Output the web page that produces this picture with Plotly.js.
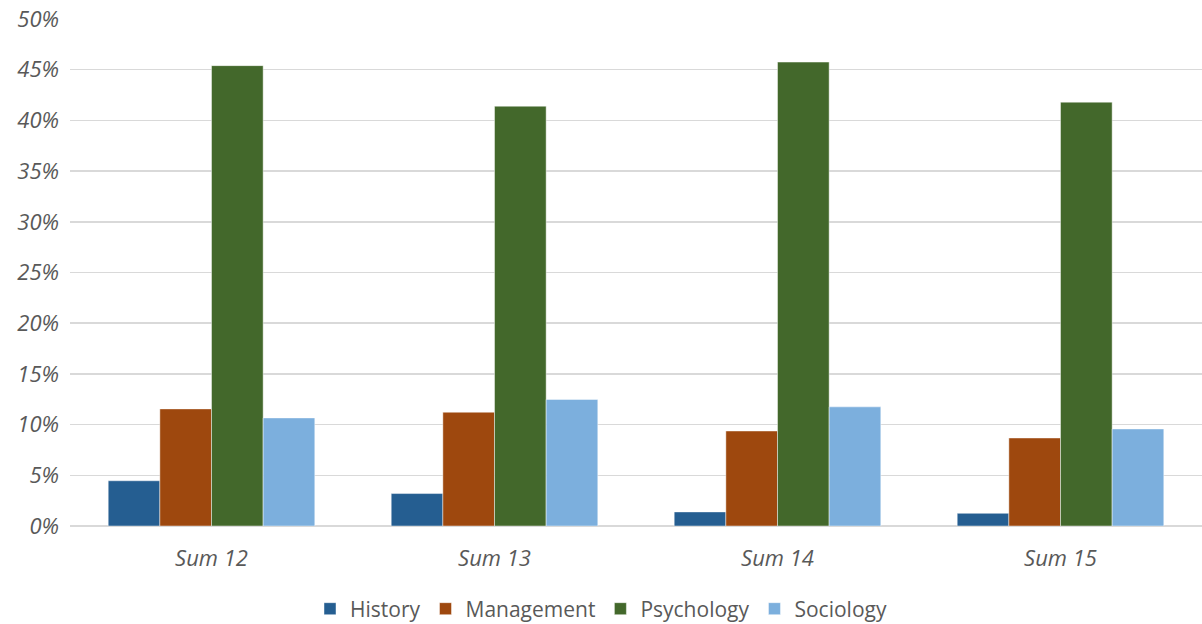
<!DOCTYPE html>
<html>
<head>
<meta charset="utf-8">
<script src="https://cdn.plot.ly/plotly-3.0.1.min.js"></script>
<style>html,body{margin:0;padding:0;background:#fff;}#chart{width:1202px;height:624px;}</style>
</head>
<body>
<div id="chart"></div>
<script>
const categories = ["Sum 12", "Sum 13", "Sum 14", "Sum 15"];
const history = [0.0446, 0.032, 0.0139, 0.0125];
const management = [0.1155, 0.1122, 0.0937, 0.0868];
const psychology = [0.454, 0.414, 0.4575, 0.418];
const sociology = [0.1066, 0.1248, 0.1175, 0.0957];
const seriesNames = ["History", "Management", "Psychology", "Sociology"];
const colors = ["#255e91", "#9e480e", "#43682b", "#7cafdd"];
const yTicks = [0, 0.05, 0.1, 0.15, 0.2, 0.25, 0.3, 0.35, 0.4, 0.45, 0.5];
const yTickText = ["0%", "5%", "10%", "15%", "20%", "25%", "30%", "35%", "40%", "45%", "50%"];

const allSeries = [history, management, psychology, sociology];
const traces = allSeries.map((vals, i) => ({
  type: "bar",
  name: seriesNames[i],
  x: categories,
  y: vals,
  marker: {color: colors[i], line: {color: "rgba(255,255,255,0.45)", width: 1}},
  hoverinfo: "none"
}));

const layout = {
  width: 1202, height: 624,
  margin: {l: 70, r: 0, t: 19, b: 98, autoexpand: false},
  paper_bgcolor: "#ffffff", plot_bgcolor: "#ffffff",
  font: {family: "'Open Sans', sans-serif", color: "#595959"},
  barmode: "group",
  bargap: 0.27,
  bargroupgap: 0,
  showlegend: true,
  legend: {orientation: "h", x: 0.5, xanchor: "center", xref: "container",
           y: 0.024, yanchor: "middle", yref: "container",
           font: {size: 21, color: "#595959"}, itemwidth: 30, traceorder: "normal"},
  xaxis: {type: "category", showgrid: false, zeroline: false, showline: false,
          ticks: "", ticklabelstandoff: 17,
          tickfont: {size: 22, color: "#595959", style: "italic"}},
  yaxis: {range: [0, 0.5], tickvals: yTicks, ticktext: yTickText,
          showgrid: true, gridcolor: "#d9d9d9", gridwidth: 1.5,
          zeroline: true, zerolinecolor: "#d9d9d9", zerolinewidth: 1.5,
          showline: false, ticks: "", ticklabelstandoff: 10,
          tickfont: {size: 22, color: "#595959", style: "italic"}}
};

Plotly.newPlot("chart", traces, layout, {displayModeBar: false, staticPlot: true});
</script>
</body>
</html>
